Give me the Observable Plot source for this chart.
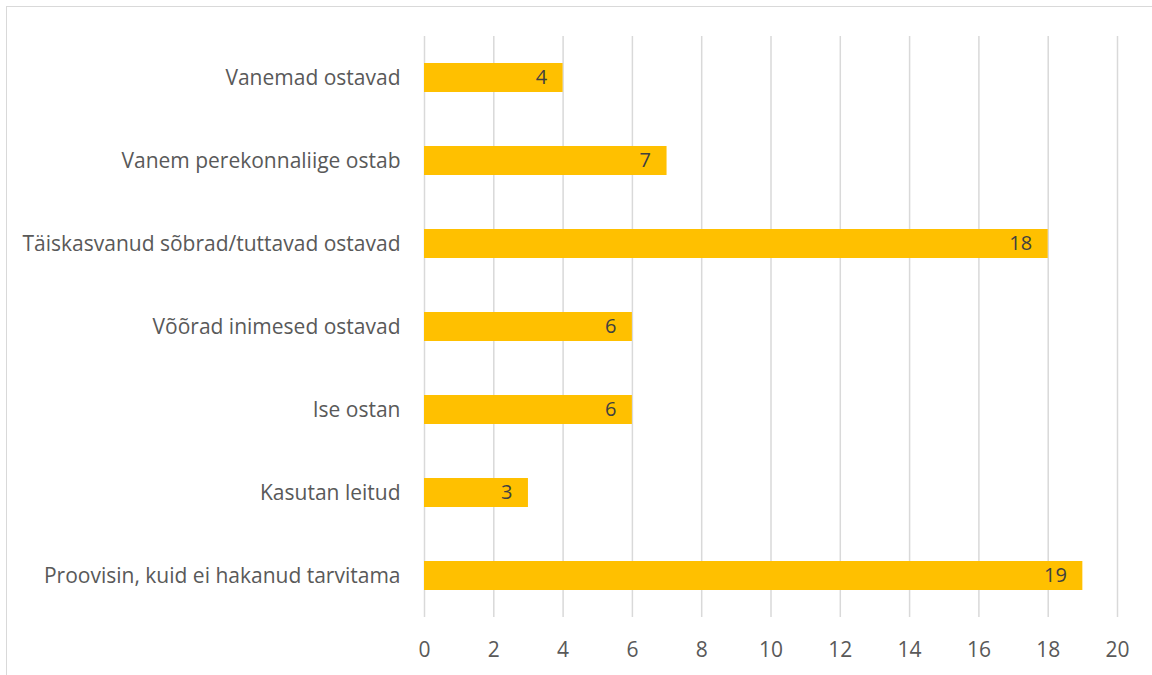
<!DOCTYPE html>
<html>
<head>
<meta charset="utf-8">
<script src="https://cdn.jsdelivr.net/npm/d3@7"></script>
<script src="https://cdn.jsdelivr.net/npm/@observablehq/plot@0.6"></script>
<style>
  html, body { margin: 0; padding: 0; background: #fff; }
  #wrap { position: relative; width: 1152px; height: 675px; overflow: hidden; }
  #border { position: absolute; left: 6px; top: 6px; width: 1200px; height: 720px;
            border: 1.5px solid #d9d9d9; box-sizing: border-box; pointer-events: none; }
  #chart { position: absolute; left: 0; top: 0; }
</style>
</head>
<body>
<div id="wrap"><div id="chart"></div><div id="border"></div></div>
<script>
// Answers: how the respondent gets hold of the product
const categories = [
  "Vanemad ostavad",
  "Vanem perekonnaliige ostab",
  "Täiskasvanud sõbrad/tuttavad ostavad",
  "Võõrad inimesed ostavad",
  "Ise ostan",
  "Kasutan leitud",
  "Proovisin, kuid ei hakanud tarvitama"
];
const counts = [4, 7, 18, 6, 6, 3, 19];
const xTicks = [0, 2, 4, 6, 8, 10, 12, 14, 16, 18, 20];

const rows = categories.map((c, i) => ({category: c, count: counts[i]}));

const textColor = "#595959";
const chart = Plot.plot({
  width: 1152,
  height: 675,
  marginLeft: 424,
  marginRight: 35,
  marginTop: 36,
  marginBottom: 58,
  style: {fontFamily: "'Open Sans', sans-serif", fontSize: "20px", color: textColor, background: "transparent"},
  x: {domain: [0, 20], ticks: xTicks, label: null},
  y: {domain: categories, label: null, paddingInner: 0.65, paddingOuter: 0.325},
  marks: [
    Plot.axisY({tickSize: 0, tickPadding: 24, fontSize: 21, label: null}),
    Plot.axisX(xTicks, {tickSize: 0, tickPadding: 25, fontSize: 21, label: null}),
    Plot.gridX(xTicks, {stroke: "#d9d9d9", strokeOpacity: 1, strokeWidth: 1.5}),
    Plot.barX(rows, {x: "count", y: "category", fill: "#FFC000"}),
    Plot.text(rows, {x: "count", y: "category", text: d => String(d.count), textAnchor: "end", dx: -16, fill: "#404040", fontSize: 20})
  ]
});
document.getElementById("chart").appendChild(chart);
</script>
</body>
</html>
